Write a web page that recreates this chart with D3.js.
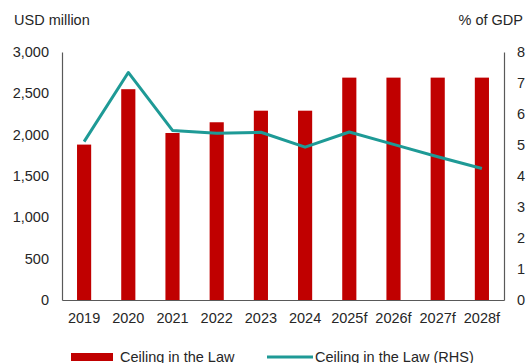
<!DOCTYPE html>
<html>
<head>
<meta charset="utf-8">
<script src="https://cdn.jsdelivr.net/npm/d3@7"></script>
<style>
  html, body { margin: 0; padding: 0; background: #fff; }
  svg { display: block; font-family: "Liberation Sans", Arial, sans-serif; }
</style>
</head>
<body>
<svg id="chart" width="529" height="363"></svg>
<script>
// Annual ceiling: USD million (bars, left axis) and % of GDP (line, right axis)
const years = ["2019", "2020", "2021", "2022", "2023", "2024", "2025f", "2026f", "2027f", "2028f"];
const ceilingUsd = [1880, 2550, 2020, 2150, 2290, 2290, 2690, 2690, 2690, 2690];
const ceilingPctGdp = [5.11, 7.34, 5.47, 5.38, 5.41, 4.93, 5.42, 5.02, 4.62, 4.24];
const leftTicks = [0, 500, 1000, 1500, 2000, 2500, 3000];
const rightTicks = [0, 1, 2, 3, 4, 5, 6, 7, 8];

const barColor = "#c00000";
const lineColor = "#1e9a96";
const textColor = "#262626";
const fontSize = "14.5px";

const svg = d3.select("#chart");
const plot = { left: 62, right: 504, top: 52, bottom: 300 };

const x = d3.scaleBand().domain(years).range([plot.left, plot.right]).paddingInner(0.68).paddingOuter(0.34);
const yL = d3.scaleLinear().domain([0, 3000]).range([plot.bottom, plot.top]);
const yR = d3.scaleLinear().domain([0, 8]).range([plot.bottom, plot.top]);

// bars
svg.append("g").selectAll("rect").data(years).join("rect")
  .attr("x", d => x(d))
  .attr("width", x.bandwidth())
  .attr("y", (d, i) => yL(ceilingUsd[i]))
  .attr("height", (d, i) => yL(0) - yL(ceilingUsd[i]))
  .attr("fill", barColor);

// axes
const fmt = d3.format(",");
const leftAxis = svg.append("g").attr("transform", `translate(${plot.left},0)`)
  .call(d3.axisLeft(yL).tickValues(leftTicks).tickFormat(fmt).tickSize(0).tickPadding(13));
const rightAxis = svg.append("g").attr("transform", `translate(${plot.right},0)`)
  .call(d3.axisRight(yR).tickValues(rightTicks).tickSize(0).tickPadding(13));
const bottomAxis = svg.append("g").attr("transform", `translate(0,${plot.bottom})`)
  .call(d3.axisBottom(x).tickSize(0).tickPadding(13));

[leftAxis, rightAxis, bottomAxis].forEach(g => {
  g.select(".domain").attr("stroke", "#595959").attr("stroke-width", 1.2);
  g.selectAll("text").attr("fill", textColor).style("font-size", fontSize)
    .style("font-family", '"Liberation Sans", Arial, sans-serif');
});
leftAxis.selectAll("text").attr("dx", "0");
bottomAxis.selectAll("text").attr("dy", "0.71em");

// line on the right axis
const line = d3.line()
  .x((d, i) => x(years[i]) + x.bandwidth() / 2)
  .y(d => yR(d));
svg.append("path").datum(ceilingPctGdp)
  .attr("d", line)
  .attr("fill", "none")
  .attr("stroke", lineColor)
  .attr("stroke-width", 3)
  .attr("stroke-linejoin", "round");

// axis unit labels
svg.append("text").attr("x", 14).attr("y", 25).text("USD million")
  .attr("fill", textColor).style("font-size", fontSize);
svg.append("text").attr("x", 523).attr("y", 25).attr("text-anchor", "end").text("% of GDP")
  .attr("fill", textColor).style("font-size", fontSize);

// legend
const legend = svg.append("g");
legend.append("rect").attr("x", 71).attr("y", 353).attr("width", 42).attr("height", 8).attr("fill", barColor);
legend.append("text").attr("x", 120).attr("y", 361.5).text("Ceiling in the Law")
  .attr("fill", textColor).style("font-size", fontSize);
legend.append("line").attr("x1", 267).attr("x2", 313).attr("y1", 357).attr("y2", 357)
  .attr("stroke", lineColor).attr("stroke-width", 3);
legend.append("text").attr("x", 315).attr("y", 361.5).text("Ceiling in the Law (RHS)")
  .attr("fill", textColor).style("font-size", fontSize);
</script>
</body>
</html>
